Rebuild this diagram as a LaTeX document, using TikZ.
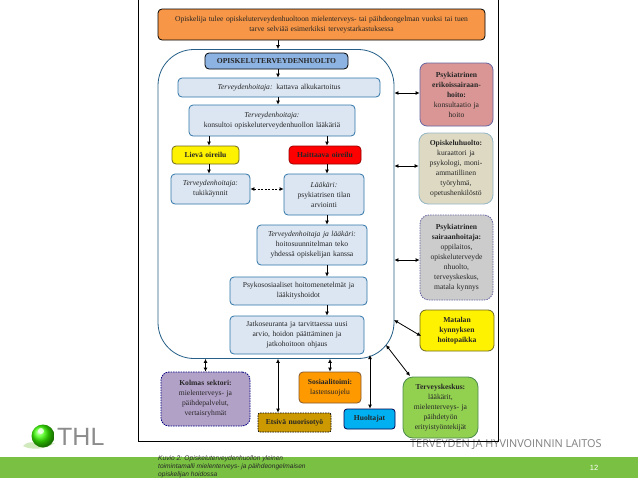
\documentclass[tikz,border=0pt]{standalone}
\usepackage{fontspec}
\setmainfont{Liberation Serif}
\setsansfont{Liberation Sans}
\newfontfamily\opensans{Open Sans}
\usetikzlibrary{arrows.meta,calc}
\definecolor{paleblue}{HTML}{DCE6F2}
\definecolor{borderblue}{HTML}{2E75A8}
\definecolor{thlgreen}{HTML}{7AC143}
\tikzset{
  bx/.style={rounded corners=#1,line width=0.8pt,align=center,inner sep=0pt,text=black!85,font=\fontsize{7.6}{10}\selectfont},
  bx/.default=4pt,
  pale/.style={bx,draw=borderblue,fill=paleblue},
  bld/.style={font=\bfseries\fontsize{7.6}{10}\selectfont},
  link/.style={-{Latex[length=4pt,width=4pt]},line width=0.8pt,black},
  dbl/.style={{Latex[length=4pt,width=4pt]}-{Latex[length=4pt,width=4pt]},line width=0.8pt,black},
  dsh/.style={dash pattern=on 1.5pt off 1pt}
}
\newcommand{\bxn}[7]{%
  \pgfmathsetlengthmacro{\bxw}{(#5-#3)*1pt}%
  \pgfmathsetlengthmacro{\bxh}{(#6-#4)*1pt}%
  \pgfmathsetlengthmacro{\bxt}{(#5-#3-2)*1pt}%
  \node[#2,minimum width=\bxw,minimum height=\bxh,text width=\bxt] (#1) at ({(#3+#5)/2},{(#4+#6)/2}) {#7};}
\begin{document}
\begin{tikzpicture}[x=1pt,y=-1pt]
\useasboundingbox (0,0) rectangle (638,479);
\fill[white] (0,0) rectangle (638,479);
% footer
\fill[thlgreen] (0,457) rectangle (638,478);
\node[anchor=west,font=\opensans\fontsize{10.9}{12}\selectfont,text=black!50,inner sep=0pt] (org) at (410,444.5) {TERVEYDEN JA HYVINVOINNIN LAITOS};
\node[font=\sffamily\fontsize{7.5}{9}\selectfont,text=white,inner sep=0pt] (pg) at (594,468) {12};
% logo
\fill[thlgreen!35] (23,446) .. controls (30,438) and (40,446) .. (55,443) .. controls (45,450) and (30,450) .. (23,446) -- cycle;
\shade[ball color=green!70!lime] (43,436) circle (11.5);
\fill[white,opacity=.75] (41,431) circle (3);
\node[anchor=west,font=\sffamily\fontsize{25}{25}\selectfont,text=black!45,inner sep=0pt] (thl) at (57,436.5) {THL};
% frame
\draw[black,line width=0.8pt] (138.5,-2) rectangle (498.5,441);
\node[anchor=north west,align=left,font=\sffamily\itshape\fontsize{6.6}{7.6}\selectfont,text=black!85,inner sep=0pt] (cap) at (158,456) {Kuvio 2: Opiskeluterveydenhuollon yleinen\\toimintamalli mielenterveys- ja päihdeongelmaisen\\opiskelijan hoidossa};
% container
\node[draw=borderblue!80!black,line width=0.8pt,rounded corners=36pt,fill=white,minimum width=236pt,minimum height=309pt,inner sep=0pt] (big) at (276,204) {};
% top
\bxn{top}{bx,draw=black,fill={rgb,255:red,247;green,150;blue,70}}{158}{9}{485}{40}{Opiskelija tulee opiskeluterveydenhuoltoon mielenterveys- tai päihdeongelman vuoksi tai tuen\\ tarve selviää esimerkiksi terveystarkastuksessa}
\bxn{oh}{bx,bld,draw=black,fill={rgb,255:red,141;green,179;blue,226}}{205}{53}{348}{69}{OPISKELUTERVEYDENHUOLTO}
\bxn{kat}{pale}{178}{78}{380}{97}{\textit{Terveydenhoitaja:} kattava alkukartoitus}
\bxn{kon}{pale}{189}{105}{355}{136}{\textit{Terveydenhoitaja:}\\konsultoi opiskeluterveydenhuollon lääkäriä}
\bxn{lie}{bx,bld,draw=olive!70!black,fill=yellow}{172}{146}{239}{164}{Lievä oireilu}
\bxn{hai}{bx,bld,draw=red!60!black,fill=red}{289}{146}{361}{164}{Haittaava oireilu}
\bxn{tuk}{pale}{171}{174}{250}{204}{\textit{Terveydenhoitaja:}\\tukikäynnit}
\bxn{laa}{pale}{284}{174}{364}{215}{\textit{Lääkäri:}\\psykiatrisen tilan\\arviointi}
\bxn{hoi}{pale}{257}{225}{367}{265}{\textit{Terveydenhoitaja ja lääkäri:}\\hoitosuunnitelman teko\\yhdessä opiskelijan kanssa}
\bxn{psy}{pale}{230}{277}{367}{305}{Psykososiaaliset hoitomenetelmät ja\\lääkityshoidot}
\bxn{jat}{pale}{230}{316}{364}{354}{Jatkoseuranta ja tarvittaessa uusi\\arvio, hoidon päättäminen ja\\jatkohoitoon ohjaus}
% right column
\bxn{eri}{bx=7pt,draw=black!60!blue!60,fill={rgb,255:red,217;green,150;blue,148}}{420}{63}{493}{126}{\textbf{Psykiatrinen}\\\textbf{erikoissairaan-}\\\textbf{hoito:}\\konsultaatio ja\\hoito}
\bxn{opi}{bx=9pt,draw=black!50!cyan!50,fill={rgb,255:red,221;green,217;blue,195}}{419}{133}{493}{204}{\textbf{Opiskeluhuolto:}\\kuraattori ja\\psykologi, moni-\\ammatillinen\\työryhmä,\\opetushenkilöstö}
\bxn{sai}{bx=9pt,dsh,draw=black!60!blue!60,fill={rgb,255:red,204;green,204;blue,204}}{420}{215}{493}{300}{\textbf{Psykiatrinen}\\\textbf{sairaanhoitaja:}\\oppilaitos,\\opiskeluterveyde\\nhuolto,\\terveyskeskus,\\matala kynnys}
\bxn{mat}{bx=6pt,bld,draw=olive!70!black,fill=yellow}{420}{310}{494}{351}{Matalan\\kynnyksen\\hoitopaikka}
\bxn{tk}{bx=10pt,draw=green!35!black!70,fill={rgb,255:red,146;green,208;blue,80}}{403}{377}{478}{438}{\textbf{Terveyskeskus:}\\lääkärit,\\mielenterveys- ja\\päihdetyön\\erityistyöntekijät}
% bottom
\bxn{kol}{bx=8pt,dsh,draw=blue!50!black,fill={rgb,255:red,178;green,161;blue,199}}{161}{372}{250}{426}{\textbf{Kolmas sektori:}\\mielenterveys- ja\\päihdepalvelut,\\vertaisryhmät}
\bxn{ets}{bx=2pt,bld,dsh,draw=black,fill={rgb,255:red,204;green,153;blue,0}}{258}{413}{331}{432}{Etsivä nuorisotyö}
\bxn{sos}{bx=4pt,draw=brown!70!black,fill={rgb,255:red,255;green,153;blue,0}}{299}{372}{361}{403}{\textbf{Sosiaalitoimi:}\\lastensuojelu}
\bxn{huo}{bx=3pt,bld,draw=black!70!blue,fill={rgb,255:red,0;green,176;blue,240}}{344}{409}{395}{429}{Huoltajat}
% connector guides
\coordinate (xa) at (278,0);
\coordinate (xb) at (209,0);
\coordinate (xc) at (327,0);
\coordinate (xd) at (205.5,0);
\coordinate (xe) at (330,0);
\coordinate (xf) at (370,0);
\coordinate (yd) at (0,189);
\coordinate (ya) at (0,93);
\coordinate (yb) at (0,166);
\coordinate (yc) at (0,260);
\coordinate (mE) at (394,320);
\coordinate (mW) at (421,336);
\coordinate (cE) at (386,345);
\coordinate (tN) at (410,376);
\coordinate (hS) at (370,355);
% arrows
\draw[link] (top.south -| xa) -- (big.north -| xa);
\draw[link] (oh.south -| xa) -- (kat.north -| xa);
\draw[link] (kat.south -| xa) -- (kon.north -| xa);
\draw[link] (kon.south -| xb) -- (lie.north -| xb);
\draw[link] (kon.south -| xc) -- (hai.north -| xc);
\draw[link] (lie.south -| xb) -- (tuk.north -| xb);
\draw[link] (hai.south -| xc) -- (laa.north -| xc);
\draw[dbl,dash pattern=on 2pt off 1.5pt] (tuk.east |- yd) -- (laa.west |- yd);
\draw[link] (laa.south -| xc) -- (hoi.north -| xc);
\draw[link] (hoi.south -| xc) -- (psy.north -| xc);
\draw[link] (psy.south -| xc) -- (jat.north -| xc);
\draw[dbl] (big.east |- ya) -- (eri.west |- ya);
\draw[dbl] (big.east |- yb) -- (opi.west |- yb);
\draw[dbl] (big.east |- yc) -- (sai.west |- yc);
\draw[dbl] (mE) -- (mW);
\draw[dbl] (cE) -- (tN);
\draw[dbl] (big.south -| xd) -- (kol.north -| xd);
\draw[dbl] (big.south -| xa) -- (ets.north -| xa);
\draw[dbl] (big.south -| xe) -- (sos.north -| xe);
\draw[dbl] (hS) -- (huo.north -| xf);
\end{tikzpicture}
\end{document}
